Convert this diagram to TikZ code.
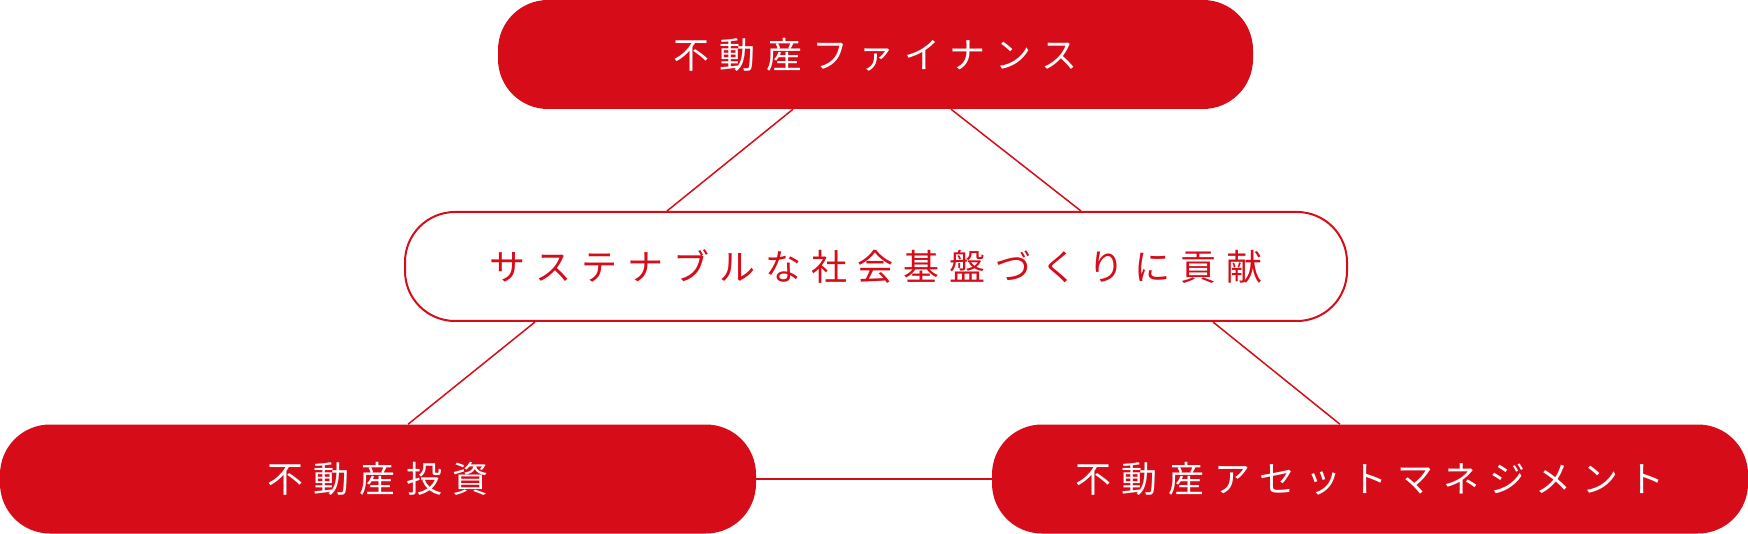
\documentclass[tikz,border=0pt]{standalone}
\usepackage{fontspec}
\newfontfamily\jpfont{Noto Sans CJK JP}[LetterSpace=28]
\usetikzlibrary{positioning}

\definecolor{brandred}{RGB}{215,12,25}
\def\pillH{109pt}
\tikzset{
  pill/.style={
    rounded corners=50pt,
    minimum height=\pillH,
    inner sep=0pt,
    font=\jpfont\fontsize{36pt}{40pt}\selectfont
  },
  pillfill/.style={pill,fill=brandred,text=white},
  pillopen/.style={pill,draw=brandred,line width=2pt,fill=white,text=brandred},
  link/.style={draw=brandred,line width=1.5pt}
}

\begin{document}
\begin{tikzpicture}[x=1pt,y=-1pt]
    \useasboundingbox (0,0) rectangle (1748,534);

    \node[pillfill,minimum width=755pt] (finance) at (875.5,54.5) {不動産ファイナンス};
    \node[pillopen,minimum width=942pt] (goal) at (876,266.5) {サステナブルな社会基盤づくりに貢献};
    \node[pillfill,minimum width=756pt] (invest) at (378,479) {不動産投資};
    \node[pillfill,minimum width=756pt] (asset) at (1370,479) {不動産アセットマネジメント};

    \path[link] ([xshift=-82.5pt]finance.south) -- ([xshift=-209pt]goal.north);
    \path[link] ([xshift=75.5pt]finance.south) -- ([xshift=205pt]goal.north);
    \path[link] ([xshift=-341pt]goal.south) -- ([xshift=30pt]invest.north);
    \path[link] ([xshift=337pt]goal.south) -- ([xshift=-30pt]asset.north);
    \path[link] (invest.east) -- (asset.west);
\end{tikzpicture}
\end{document}
